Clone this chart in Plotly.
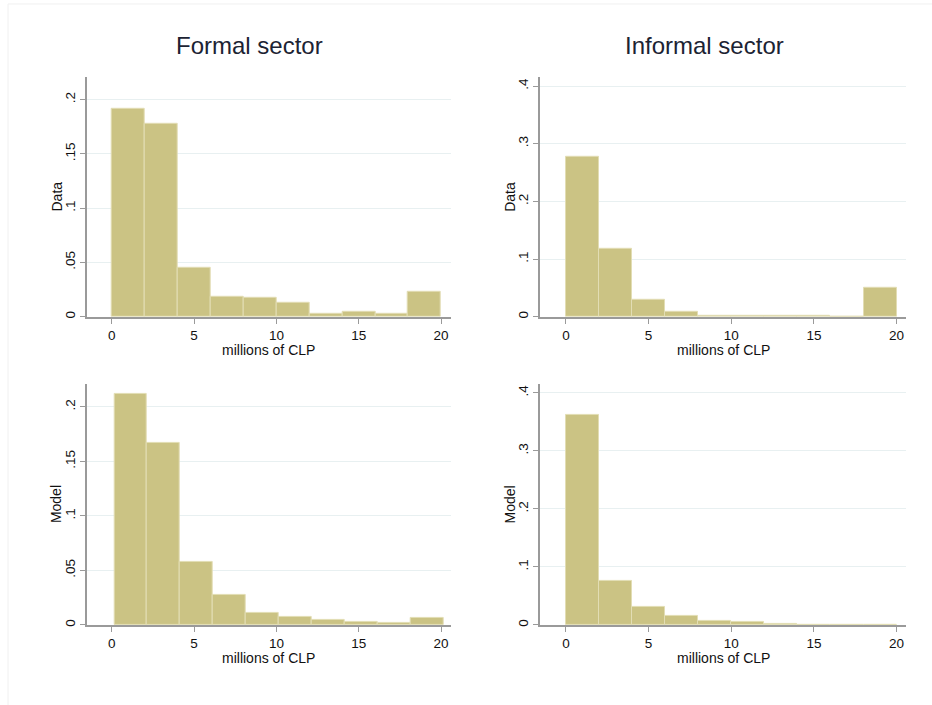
import plotly.graph_objects as go
from plotly.subplots import make_subplots

# Histogram densities by income bin (millions of CLP), 10 bins of width 2
bin_width = 2.0
formal_data_start = 0.0
formal_model_start = 0.15
informal_data_start = 0.0
informal_model_start = 0.0

formal_data = [0.192, 0.178, 0.0448, 0.0187, 0.0172, 0.0126, 0.0031, 0.0046, 0.0025, 0.0230]
informal_data = [0.278, 0.118, 0.0294, 0.0086, 0.0024, 0.0024, 0.0022, 0.0010, 0.0008, 0.0496]
formal_model = [0.2122, 0.167, 0.0577, 0.0275, 0.0113, 0.0070, 0.0043, 0.0031, 0.0015, 0.0061]
informal_model = [0.362, 0.0763, 0.0316, 0.0155, 0.0069, 0.0046, 0.0015, 0.0008, 0.0005, 0.0005]

x_ticks = [0, 5, 10, 15, 20]
formal_y_ticks = [0, 0.05, 0.1, 0.15, 0.2]
formal_y_labels = ["0", ".05", ".1", ".15", ".2"]
informal_y_ticks = [0, 0.1, 0.2, 0.3, 0.4]
informal_y_labels = ["0", ".1", ".2", ".3", ".4"]

col_titles = ["Formal sector", "Informal sector"]
row_titles = ["Data", "Model"]
x_title = "millions of CLP"

W, H = 932, 705
FONT = "Liberation Sans, Arial, sans-serif"
BAR_FILL = "#cbc384"
BAR_EDGE = "#e2ddb4"
GRID = "#e8f0f1"
AXIS = "#9a9a9a"

fig = make_subplots(rows=2, cols=2)

panels = [
    (1, 1, formal_data, formal_data_start, formal_y_ticks, formal_y_labels, [0, 0.221]),
    (1, 2, informal_data, informal_data_start, informal_y_ticks, informal_y_labels, [0, 0.416]),
    (2, 1, formal_model, formal_model_start, formal_y_ticks, formal_y_labels, [0, 0.221]),
    (2, 2, informal_model, informal_model_start, informal_y_ticks, informal_y_labels, [0, 0.4155]),
]

# pixel boxes of each plot area: (left, right, top, bottom)
boxes = {
    (1, 1): (86.7, 451, 77, 317.7),
    (1, 2): (540, 906, 77, 317.7),
    (2, 1): (86.7, 451, 385, 626.7),
    (2, 2): (540, 906, 385, 626.7),
}
x_ranges = {1: [-1.52, 20.6], 2: [-1.57, 20.57]}

for r, c, vals, start, yt, yl, yr in panels:
    centers = [start + bin_width * (i + 0.5) for i in range(len(vals))]
    fig.add_trace(
        go.Bar(
            x=centers, y=vals, width=bin_width,
            marker=dict(color=BAR_FILL, line=dict(color=BAR_EDGE, width=1)),
            showlegend=False, hoverinfo="skip",
        ),
        row=r, col=c,
    )
    left, right, top, bottom = boxes[(r, c)]
    fig.update_xaxes(
        domain=[left / W, right / W], range=x_ranges[c],
        tickvals=x_ticks, ticks="outside", ticklen=5, tickcolor=AXIS, tickwidth=1,
        showline=True, linecolor=AXIS, linewidth=1.5, showgrid=False, zeroline=False,
        tickfont=dict(family=FONT, size=13.5, color="#111"),
        row=r, col=c,
    )
    fig.update_yaxes(
        domain=[1 - bottom / H, 1 - top / H], range=yr,
        tickvals=yt, ticktext=yl, tickangle=-90,
        ticks="outside", ticklen=5, tickcolor=AXIS, tickwidth=1,
        showline=True, linecolor=AXIS, linewidth=1.5,
        showgrid=True, gridcolor=GRID, gridwidth=1, zeroline=False,
        tickfont=dict(family=FONT, size=13.5, color="#111"),
        row=r, col=c,
    )

annotations = []
# column titles
for cx, text in zip([250, 704], col_titles):
    annotations.append(dict(
        x=cx / W, y=1 - 46 / H, xref="paper", yref="paper", text=text,
        showarrow=False, xanchor="center", yanchor="middle",
        font=dict(family=FONT, size=24, color="#1c2333"),
    ))
# row (y-axis) titles and x-axis titles
for (r, c), (left, right, top, bottom) in boxes.items():
    annotations.append(dict(
        x=(left - 30) / W, y=1 - (top + bottom) / 2 / H, xref="paper", yref="paper",
        text=row_titles[r - 1], textangle=-90, showarrow=False,
        xanchor="center", yanchor="middle",
        font=dict(family=FONT, size=14, color="#111"),
    ))
    annotations.append(dict(
        x=(left + right) / 2 / W, y=1 - (bottom + 33) / H, xref="paper", yref="paper",
        text=x_title, showarrow=False, xanchor="center", yanchor="middle",
        font=dict(family=FONT, size=14, color="#111"),
    ))

fig.update_layout(
    width=W, height=H,
    margin=dict(l=0, r=0, t=0, b=0),
    paper_bgcolor="white", plot_bgcolor="white",
    bargap=0,
    annotations=annotations,
    shapes=[dict(
        type="rect", xref="paper", yref="paper",
        x0=8 / W, x1=1.02, y0=-0.02, y1=1 - 4 / H,
        line=dict(color="#f0f0f0", width=1), layer="below",
    )],
)

fig.write_html("out.html")
